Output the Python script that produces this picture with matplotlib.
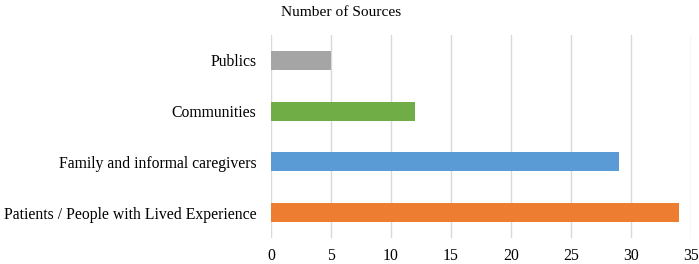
import matplotlib
matplotlib.use("Agg")
import matplotlib.pyplot as plt

categories = ["Patients / People with Lived Experience", "Family and informal caregivers", "Communities", "Publics"]
values = [34, 29, 12, 5]
colors = ["#ED7D31", "#5B9BD5", "#70AD47", "#A5A5A5"]
xticks = [0, 5, 10, 15, 20, 25, 30, 35]

plt.rcParams["font.family"] = ["Liberation Serif", "DejaVu Serif"]

fig = plt.figure(figsize=(6.99, 2.64), dpi=100)
ax = fig.add_axes([271/699, 1-238/264, 420/699, 203/264])
ax.barh(range(len(categories)), values, height=0.37, color=colors, zorder=3)
ax.set_yticks(range(len(categories)))
ax.set_yticklabels(categories, fontsize=11.3)
ax.set_xticks(xticks)
ax.set_xticklabels([str(t) for t in xticks], fontsize=11.3)
ax.set_xlim(0, 35)
ax.set_ylim(-0.5, 3.5)
ax.grid(axis="x", color="#D9D9D9", linewidth=1, zorder=0)
for s in ax.spines.values():
    s.set_visible(False)
ax.tick_params(axis="both", length=0)
ax.tick_params(axis="y", pad=10.5)
ax.tick_params(axis="x", pad=7)
fig.text(341/699, 1-12/264, "Number of Sources", ha="center", va="center", fontsize=11.1)
fig.savefig("out.png", dpi=100)
